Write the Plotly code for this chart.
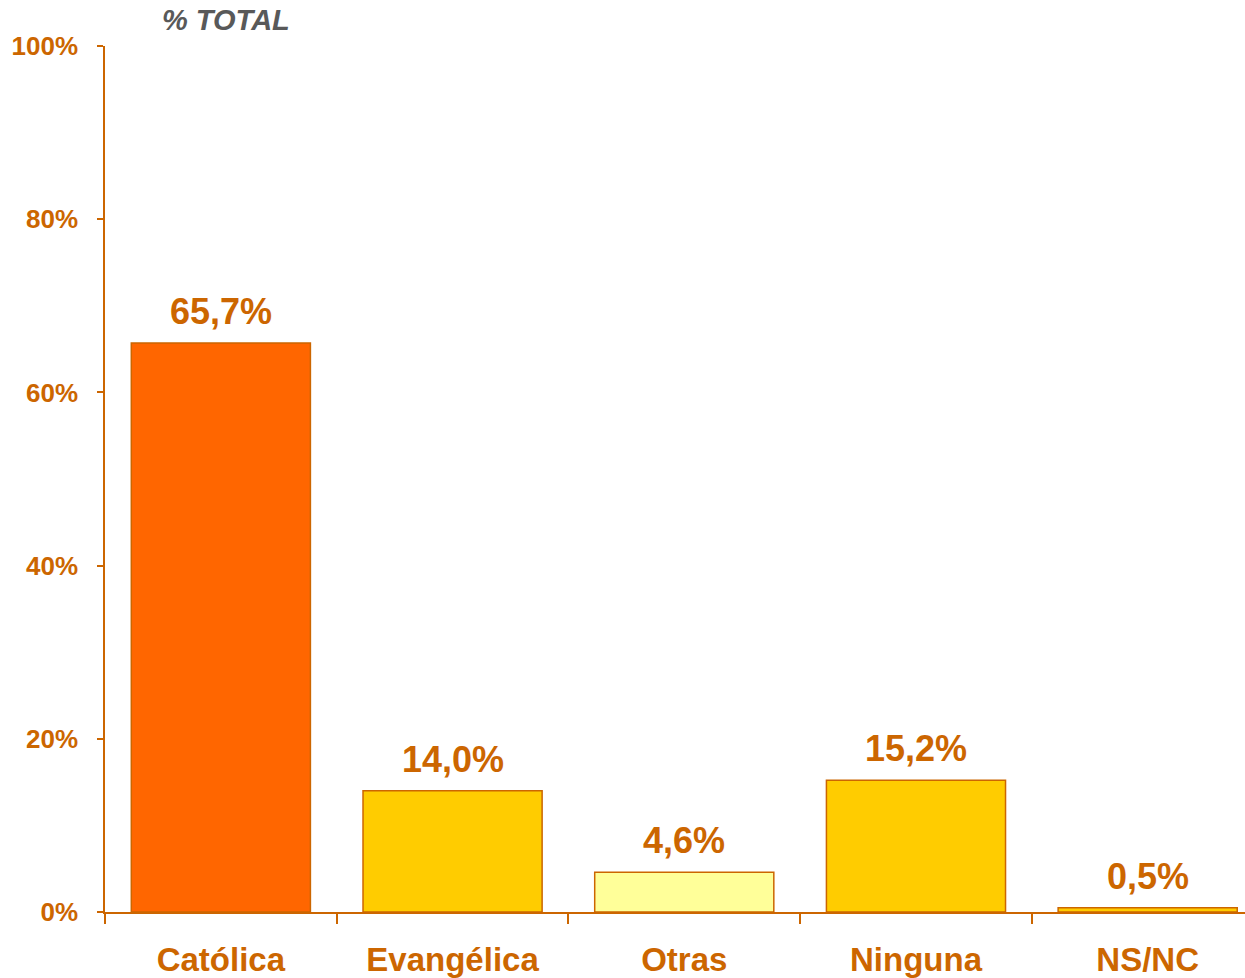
import plotly.graph_objects as go

categories = ["Católica", "Evangélica", "Otras", "Ninguna", "NS/NC"]
values = [65.7, 14.0, 4.6, 15.2, 0.5]
value_labels = ["65,7%", "14,0%", "4,6%", "15,2%", "0,5%"]
bar_colors = ["#FF6600", "#FFCC00", "#FFFF99", "#FFCC00", "#FFCC00"]
y_ticks = [0, 20, 40, 60, 80, 100]
y_tick_labels = ["0%", "20%", "40%", "60%", "80%", "100%"]

ORANGE = "#CC6600"
FONT = "Liberation Sans, Arial, sans-serif"

W, H = 1245, 978
L, T, B, R = 105, 46, 66, 0
pw, ph = W - L - R, H - T - B

fig = go.Figure()
fig.add_trace(go.Bar(
    x=categories, y=values,
    marker=dict(color=bar_colors, line=dict(color=ORANGE, width=1.5)),
    width=0.773,
    hoverinfo="skip",
))

for c, v, t in zip(categories, values, value_labels):
    fig.add_annotation(
        x=c, y=v, xref="x", yref="y", text="<b>%s</b>" % t,
        showarrow=False, yanchor="bottom", yshift=9,
        font=dict(family=FONT, size=36, color=ORANGE),
    )

fig.add_annotation(
    x=(160 - L) / pw, y=(H - B - 20) / ph, xref="paper", yref="paper",
    text="<b><i>% TOTAL</i></b>",
    showarrow=False, xanchor="left", yanchor="middle",
    font=dict(family=FONT, size=29, color="#595959"),
)

fig.update_layout(
    width=W, height=H,
    margin=dict(l=L, r=R, t=T, b=B, pad=0),
    paper_bgcolor="white", plot_bgcolor="white",
    showlegend=False,
    font=dict(family=FONT, color=ORANGE),
)
fig.update_xaxes(
    type="category", range=[-0.5, 4.42],
    showline=True, linecolor=ORANGE, linewidth=1.5,
    ticks="outside", tickson="boundaries", ticklen=10, tickwidth=1.5, tickcolor=ORANGE,
    tickfont=dict(family=FONT, size=33, color=ORANGE),
    ticktext=["<b>%s</b>" % c for c in categories], tickvals=categories,
    ticklabelstandoff=18,
    showgrid=False, zeroline=False,
)
fig.update_yaxes(
    range=[0, 100],
    showline=True, linecolor=ORANGE, linewidth=1.5,
    ticks="outside", ticklen=6, tickwidth=1.5, tickcolor=ORANGE,
    tickvals=y_ticks, ticktext=["<b>%s</b>" % t for t in y_tick_labels],
    tickfont=dict(family=FONT, size=26, color=ORANGE),
    ticklabelstandoff=14,
    showgrid=False, zeroline=False,
)

fig.write_html(
    "out.html",
    config={"displayModeBar": False},
    post_script="document.body.style.margin='0';document.body.style.overflow='hidden';",
)
